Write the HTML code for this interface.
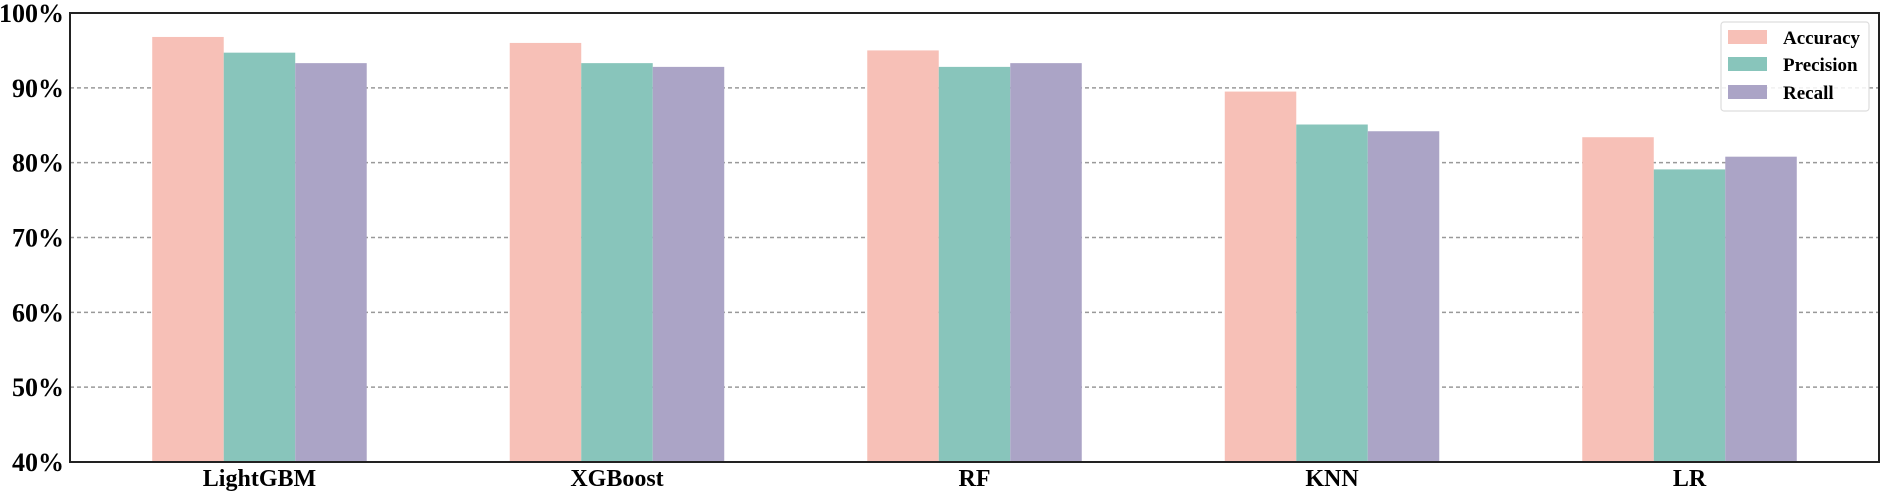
<!DOCTYPE html>
<html><head><meta charset="utf-8"><style>
html,body{margin:0;padding:0;background:#fff;}
svg{display:block;font-family:"Liberation Serif",serif;font-weight:bold;}
</style></head><body>
<svg id="chart" width="1890" height="492" viewBox="0 0 1890 492" xmlns="http://www.w3.org/2000/svg">
<g id="grid"></g>
<g id="bars"></g>
<rect x="70" y="13" width="1809" height="449" fill="none" stroke="#222" stroke-width="2"/>
<g id="yticks"></g>
<g id="xticks"></g>
<g>
<rect x="1721" y="22" width="148" height="89" rx="3" fill="#fff" fill-opacity="0.85" stroke="#ddd" stroke-width="1.2"/>
<rect x="1728" y="30" width="39" height="14" fill="#f7c0b7"/>
<text x="1783" y="44" font-size="19">Accuracy</text>
<rect x="1728" y="57" width="39" height="14" fill="#88c5bb"/>
<text x="1783" y="71" font-size="19">Precision</text>
<rect x="1728" y="85" width="39" height="14" fill="#aba4c6"/>
<text x="1783" y="99" font-size="19">Recall</text>
</g>
</svg>
<script>
const categories = ["LightGBM","XGBoost","RF","KNN","LR"];
const accuracy = [96.8, 96.0, 95.0, 89.5, 83.4];
const precision = [94.7, 93.3, 92.8, 85.1, 79.1];
const recall = [93.3, 92.8, 93.3, 84.2, 80.8];
const yTicks = [40,50,60,70,80,90,100];
const seriesNames = ["accuracy","precision","recall"];
const seriesColors = ["#f7c0b7","#88c5bb","#aba4c6"];

const NS="http://www.w3.org/2000/svg";
const L=70,R=1879,T=13,B=462,ymin=40,ymax=100;
const xmin=-0.53,xmax=categories.length-1+0.53;
const xs=v=>L+(v-xmin)/(xmax-xmin)*(R-L);
const ys=v=>B-(v-ymin)/(ymax-ymin)*(B-T);
const barW=0.2;
function mk(t,a){const e=document.createElementNS(NS,t);for(const k in a)e.setAttribute(k,a[k]);return e;}
const grid=document.getElementById('grid'),yt=document.getElementById('yticks'),xt=document.getElementById('xticks'),bars=document.getElementById('bars');
yTicks.forEach(v=>{
  const y=ys(v);
  const g=mk('line',{x1:L,x2:R,y1:y,y2:y,stroke:'#999','stroke-width':1.5,'stroke-dasharray':'4,3'});
  
  
  grid.appendChild(g);
  const t=mk('text',{x:64,y:y+9,'text-anchor':'end','font-size':26});
  t.textContent=v+'%';
  
  
  yt.appendChild(t);
});
const series=[accuracy,precision,recall];
categories.forEach((c,i)=>{
  series.forEach((s,j)=>{
    const x0=xs(i+(j-1.5)*barW), x1=xs(i+(j-0.5)*barW);
    const r=mk('rect',{x:x0,y:ys(s[i]),width:x1-x0,height:B-ys(s[i]),fill:seriesColors[j]});
    
    
    bars.appendChild(r);
  });
  const t=mk('text',{x:xs(i),y:486,'text-anchor':'middle','font-size':24});
  t.textContent=c;
  
  
  xt.appendChild(t);
});
</script>
</body></html>
